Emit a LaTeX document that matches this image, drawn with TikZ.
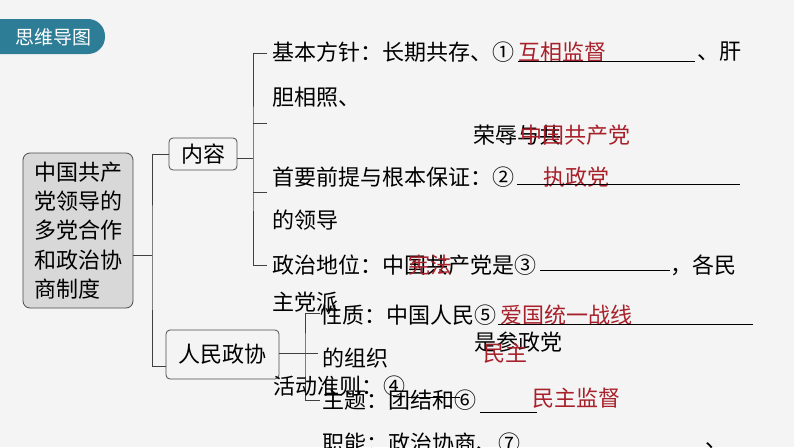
\documentclass[tikz,border=0pt]{standalone}
\usepackage{fontspec}
\newfontfamily\cjk{Noto Sans CJK SC}
\usetikzlibrary{positioning}
\definecolor{badgeteal}{RGB}{46,125,151}
\definecolor{ansred}{RGB}{168,32,42}
\definecolor{boxgray}{RGB}{216,216,216}
\definecolor{bggray}{RGB}{244,244,244}
\tikzset{
	txt/.style={anchor=west, inner sep=0pt, font=\cjk\fontsize{22}{24}\selectfont},
	ans/.style={txt, text=ansred},
	topic/.style={draw=black!70, rounded corners=4pt, line width=0.8pt, inner sep=0pt, font=\cjk\fontsize{22}{24}\selectfont},
	link/.style={draw=black!75, line width=0.9pt},
	blank/.style={draw=black, line width=0.9pt}
}

\begin{document}
\begin{tikzpicture}[x=1pt, y=-1pt]
			%%%%% START %%%%%
			\useasboundingbox (0, 0) rectangle (794, 447);
			\clip (0, 0) rectangle (794, 447);
			\fill[bggray] (0, 0) rectangle (794, 447);
			
			\fill[badgeteal, rounded corners=17pt] (-30, 19) rectangle (105, 54);
			\node[txt, text=white, anchor=center, font=\cjk\fontsize{19}{21}\selectfont] (badge) at (53, 37) {思维导图};
			
			\node[topic, fill=boxgray, rounded corners=7pt, minimum width=110, minimum height=155, align=left, font=\cjk\fontsize{22}{29.3}\selectfont] (zhidu) at (78, 230.5) {中国共产\\党领导的\\多党合作\\和政治协\\商制度};
			\node[topic, minimum width=68, minimum height=32] (neirong) at (203, 154) {内容};
			\node[topic, minimum width=113, minimum height=49] (zhengxie) at (222.5, 354.5) {人民政协};
			
			\coordinate (jmain) at (152, 255);
			\coordinate (zxin) at (166, 366);
			\draw[link] (zhidu.east |- jmain) -- (jmain);
			\draw[link] (neirong.west) -| (jmain) |- (zxin);
			
			\coordinate (jnr) at (253, 158);
			\draw[link] (neirong.east |- jnr) -- (jnr);
			\draw[link] (267, 53) -| (jnr) |- (267, 265);
			\draw[link] (jnr |- 0, 123) -- (267, 123);
			\draw[link] (jnr |- 0, 192) -- (267, 192);
			
			\coordinate (jzx) at (305, 353);
			\draw[link] (zhengxie.east |- jzx) -- (318, 353);
			\draw[link] (320, 313) -| (jzx) |- (320, 400);
			
			% content lines
			\node[txt] (fz) at (272, 52) {基本方针：长期共存、①};
			\node[ans] (a1) at (518, 52) {互相监督};
			\draw[blank] (518, 61) -- (695, 61);
			\node[txt] (fz2) at (697, 52) {、肝};
			\node[txt] (fz3) at (272, 97) {胆相照、};
			\node[txt] (fz4) at (473, 135) {荣辱与共};
			\node[ans] (a2) at (520, 135) {中国共产党};
			
			\node[txt] (qt) at (272, 177) {首要前提与根本保证：②};
			\node[ans] (a3) at (543, 177) {执政党};
			\draw[blank] (517, 184) -- (740, 184);
			\node[txt] (qt2) at (272, 220) {的领导};
			
			\node[txt] (dw) at (272, 265) {政治地位：中国共产党是③};
			\node[ans] (a4) at (408, 265) {宪法};
			\draw[blank] (540, 270) -- (670, 270);
			\node[txt] (dw2) at (670, 265) {，各民};
			\node[txt] (dw3) at (272, 302) {主党派};
			
			\node[txt] (xz) at (320, 315) {性质：中国人民⑤};
			\node[ans] (a5) at (500, 315) {爱国统一战线};
			\draw[blank] (498, 324) -- (753, 324);
			\node[txt] (xz2) at (474, 342) {是参政党};
			\node[ans] (a6) at (483, 353) {民主};
			\node[txt] (xz3) at (322, 358) {的组织};
			
			\node[txt] (zz) at (273, 386) {活动准则：④};
			\draw[blank] (408, 397) -- (460, 397);
			\node[txt] (zt) at (322, 400) {主题：团结和⑥};
			\draw[blank] (480, 412) -- (537, 412);
			\node[ans] (a7) at (532, 398) {民主监督};
			\node[txt] (zn) at (322, 443) {职能：政治协商、⑦};
			\node[txt] (zn2) at (705, 446) {、};
			%%%%% END %%%%%
		\end{tikzpicture}
\end{document}
